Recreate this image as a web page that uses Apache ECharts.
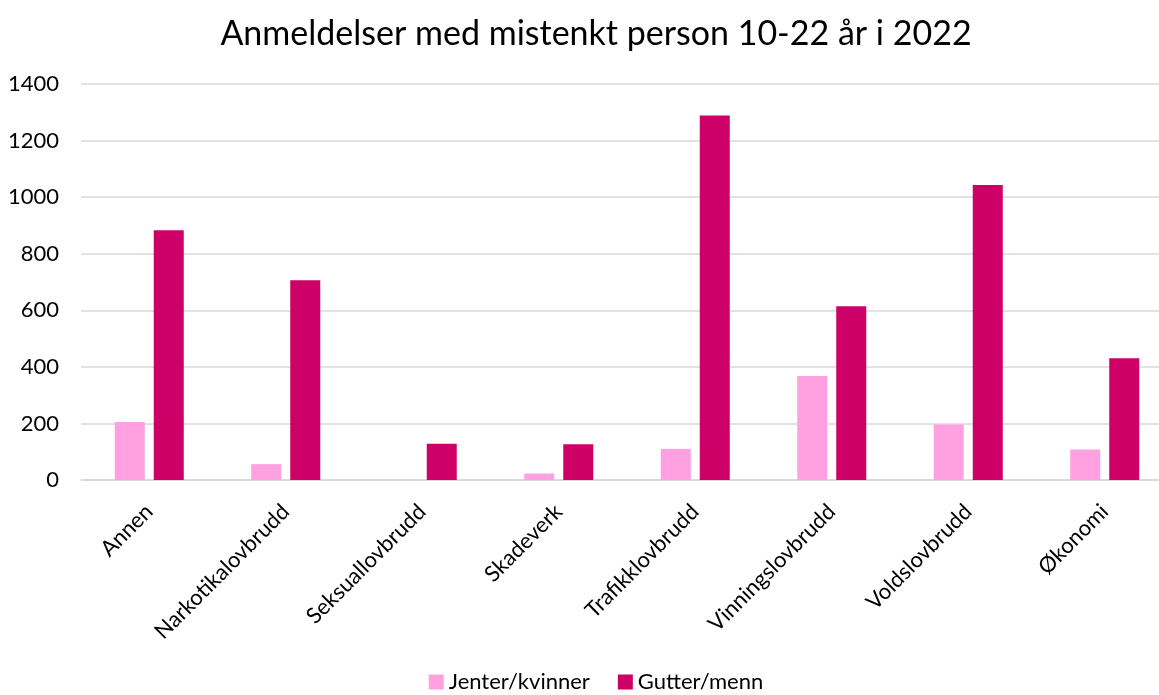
<!DOCTYPE html>
<html>
<head>
<meta charset="utf-8">
<script src="https://cdn.jsdelivr.net/npm/echarts@6/dist/echarts.min.js"></script>
<style>
  html, body { margin: 0; padding: 0; background: #fff; overflow: hidden; }
  #chart { width: 1192px; height: 695px; }
</style>
</head>
<body>
<div id="chart"></div>
<script>
const categories = ['Annen', 'Narkotikalovbrudd', 'Seksuallovbrudd', 'Skadeverk', 'Trafikklovbrudd', 'Vinningslovbrudd', 'Voldslovbrudd', 'Økonomi']
const jenter = [205, 56, 0, 23, 110, 368, 196, 108]
const gutter = [883, 706, 128, 126, 1289, 614, 1043, 430]
const seriesNames = ['Jenter/kvinner', 'Gutter/menn']
const yTicks = [0, 200, 400, 600, 800, 1000, 1200, 1400]

const FONT = 'Lato, "Open Sans", sans-serif'
// plot runs past the right edge of the picture, so the div is wider than the window
const chart = echarts.init(document.getElementById('chart'))
chart.setOption({
  animation: false,
  title: {
    text: 'Anmeldelser med mistenkt person 10-22 år i 2022',
    left: 'center',
    top: 12,
    textStyle: { fontFamily: FONT, fontSize: 34, fontWeight: 'normal', color: '#000' }
  },
  legend: {
    bottom: -3,
    left: 'center',
    itemWidth: 15,
    itemHeight: 15,
    itemGap: 28,
    icon: 'rect',
    textStyle: { fontFamily: FONT, fontSize: 22, color: '#000', padding: [0, 0, 0, 0] },
    data: seriesNames
  },
  grid: {
    left: 81,
    right: 19,
    top: 84,
    bottom: 215,
    containLabel: false
  },
  xAxis: {
    type: 'category',
    data: categories,
    axisLine: { lineStyle: { color: '#D9D9D9', width: 1.5 } },
    axisTick: { show: false },
    axisLabel: {
      interval: 0,
      rotate: 45,
      margin: 28,
      fontFamily: FONT,
      fontSize: 22,
      color: '#000'
    }
  },
  yAxis: {
    type: 'value',
    min: yTicks[0],
    max: yTicks[yTicks.length - 1],
    interval: 200,
    axisLine: { show: false },
    axisTick: { show: false },
    splitLine: { lineStyle: { color: '#D9D9D9', width: 1.5 } },
    axisLabel: {
      fontFamily: FONT,
      fontSize: 22,
      color: '#000',
      margin: 22,
      formatter: function (value) {
        return String(value)
      }
    }
  },
  series: [
    {
      name: seriesNames[0],
      type: 'bar',
      data: jenter,
      barWidth: 30,
      barGap: '30%',
      itemStyle: { color: '#FFA0E0' }
    },
    {
      name: seriesNames[1],
      type: 'bar',
      data: gutter,
      barWidth: 30,
      barGap: '30%',
      itemStyle: { color: '#CC0066' }
    }
  ]
})
</script>
</body>
</html>
